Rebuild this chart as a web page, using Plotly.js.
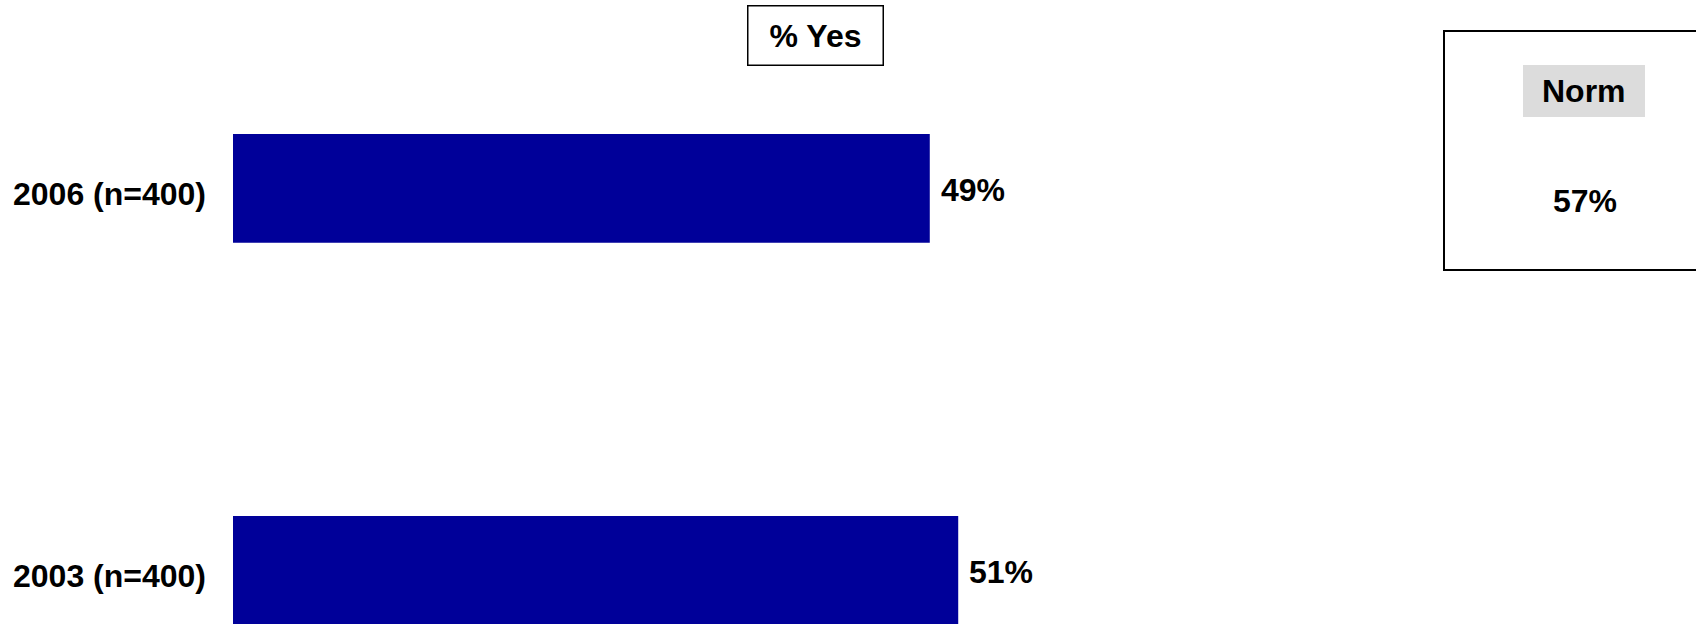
<!DOCTYPE html>
<html>
<head>
<meta charset="utf-8">
<script src="https://cdn.plot.ly/plotly-3.0.1.min.js"></script>
<style>
  html, body { margin: 0; padding: 0; background: #fff; }
  #chart { width: 1696px; height: 624px; }
</style>
</head>
<body>
<div id="chart"></div>
<script>
// ---- data ----
const categories = ["2003 (n=400)", "2006 (n=400)"];
const values = [51, 49];
const seriesName = "% Yes";
const normLabel = "Norm";
const normValue = 57;

// ---- layout helpers (pixel -> paper) ----
const W = 1696, H = 624;
const L = 233, R = 41, T = 0, B = 0;
const PW = W - L - R, PH = H - T - B;
const px = x => (x - L) / PW;
const py = y => 1 - (y - T) / PH;

const FONT = "Arial, 'Liberation Sans', Helvetica, sans-serif";
const bold = { family: FONT, size: 32, color: "#000000", weight: 700 };

const trace = {
  type: "bar",
  orientation: "h",
  y: categories,
  x: values,
  name: seriesName,
  marker: { color: "#000099", line: { width: 0 } },
  width: 0.2845,
  hoverinfo: "skip"
};

const annotations = categories.map((c, i) => ({
  x: values[i], y: c, xref: "x", yref: "y",
  text: values[i] + "%", showarrow: false,
  xanchor: "left", yanchor: "middle", xshift: 9, yshift: -2,
  font: bold
}));

annotations.push({
  x: px(815.5), y: py(35.5), xref: "paper", yref: "paper",
  text: seriesName, showarrow: false,
  xanchor: "center", yanchor: "middle",
  width: 134, height: 58, borderpad: 0,
  bordercolor: "#000000", borderwidth: 1.5,
  bgcolor: "#ffffff", font: bold
});
annotations.push({
  x: px(1584), y: py(91), xref: "paper", yref: "paper",
  text: normLabel, showarrow: false,
  xanchor: "center", yanchor: "middle", font: bold
});
annotations.push({
  x: px(1584.5), y: py(201), xref: "paper", yref: "paper",
  text: normValue + "%", showarrow: false,
  xanchor: "center", yanchor: "middle", font: bold
});

const shapes = [
  { type: "rect", xref: "paper", yref: "paper",
    x0: px(1444), x1: px(1730), y0: py(31), y1: py(270),
    line: { color: "#000000", width: 2 }, fillcolor: "rgba(0,0,0,0)", layer: "below" },
  { type: "rect", xref: "paper", yref: "paper",
    x0: px(1523), x1: px(1645), y0: py(65), y1: py(117),
    line: { width: 0 }, fillcolor: "#dcdcdc", layer: "below" }
];

const layout = {
  width: W, height: H,
  margin: { l: L, r: R, t: T, b: B, pad: 0 },
  paper_bgcolor: "#ffffff",
  plot_bgcolor: "#ffffff",
  showlegend: false,
  xaxis: { range: [0, 100], visible: false, fixedrange: true },
  yaxis: {
    type: "category",
    categoryorder: "array", categoryarray: categories,
    range: [-0.1404, 1.4931],
    showgrid: false, zeroline: false, showline: false,
    ticks: "", ticklabelstandoff: 26, ticklabelshift: 5,
    tickfont: bold, fixedrange: true
  },
  annotations: annotations,
  shapes: shapes
};

Plotly.newPlot("chart", [trace], layout, { displayModeBar: false, staticPlot: true });
</script>
</body>
</html>
